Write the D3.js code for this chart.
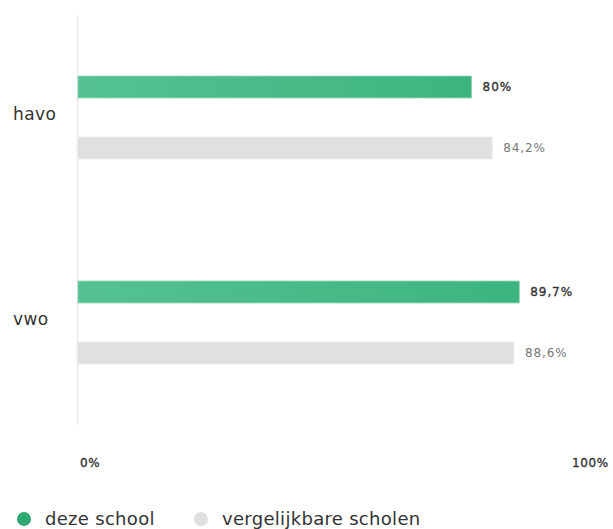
<!DOCTYPE html>
<html lang="nl">
<head>
    <meta charset="UTF-8">
    <title>havo vwo</title>
    <script src="https://cdn.jsdelivr.net/npm/d3@7/dist/d3.min.js"></script>
    <style>
        body { margin: 0; background: #fff; }
        svg { display: block; font-family: "DejaVu Sans", sans-serif; }
    </style>
</head>
<body>
    <svg width="613" height="529"></svg>
    <script>
        // data
        const categories = ['havo', 'vwo']
        const series = ['deze school', 'vergelijkbare scholen']
        const schoolValues = [80, 89.7]
        const compareValues = [84.2, 88.6]
        const tickValues = [0, 100]

        const colors = { 'deze school': '#46b886', 'vergelijkbare scholen': '#e0e0e0' }
        const fmt = v => String(v).replace('.', ',') + '%'

        const svg = d3.select('svg')
        const mLeft = 78, mRight = 570, mTop = 15, mBottom = 425

        const x = d3.scaleLinear().domain([0, 100]).range([mLeft, mRight])
        const y = d3.scaleBand().domain(categories).range([mTop, mBottom])
        const ySub = d3.scaleBand().domain(series).range([0, y.bandwidth()]).paddingInner(0.64).paddingOuter(1.0)

        const defs = svg.append('defs')
        const grad = defs.append('linearGradient').attr('id', 'greenGrad')
        grad.append('stop').attr('offset', '0%').attr('stop-color', '#55c193')
        grad.append('stop').attr('offset', '100%').attr('stop-color', '#3db47f')

        // axis line
        svg.append('line')
            .attr('x1', mLeft - 0.5).attr('x2', mLeft - 0.5)
            .attr('y1', mTop).attr('y2', mBottom)
            .attr('stroke', '#efe6ea').attr('stroke-width', 1.5)

        const rows = categories.map((c, i) => [
            { cat: c, s: series[0], v: schoolValues[i] },
            { cat: c, s: series[1], v: compareValues[i] }
        ]).flat()

        const g = svg.append('g')
        g.selectAll('rect')
            .data(rows)
            .join('rect')
            .attr('x', x(0))
            .attr('y', d => y(d.cat) + ySub(d.s))
            .attr('width', d => x(d.v) - x(0))
            .attr('height', ySub.bandwidth())
            .attr('fill', d => d.s === series[0] ? 'url(#greenGrad)' : colors[d.s])
            .attr('stroke', d => d.s === series[0] ? '#8fd6b5' : '#ececec')
            .attr('stroke-width', 0.8)

        g.selectAll('text.val')
            .data(rows)
            .join('text')
            .attr('class', 'val')
            .attr('x', d => x(d.v) + 11)
            .attr('y', d => y(d.cat) + ySub(d.s) + ySub.bandwidth() / 2)
            .attr('dy', '0.35em')
            .attr('font-size', 12)
            .attr('letter-spacing', 0.9)
            .attr('fill', d => d.s === series[0] ? '#333' : '#777')
            .attr('stroke', d => d.s === series[0] ? '#333' : 'none')
            .attr('stroke-width', 0.35)
            .text(d => fmt(d.v))

        // category labels
        svg.selectAll('text.cat')
            .data(categories)
            .join('text')
            .attr('class', 'cat')
            .attr('x', 13)
            .attr('y', d => y(d) + y.bandwidth() / 2 - 3)
            .attr('dy', '0.35em')
            .attr('font-size', 17)
            .attr('letter-spacing', 0.4)
            .attr('fill', '#333')
            .text(d => d)

        // ticks
        svg.selectAll('text.tick')
            .data(tickValues)
            .join('text')
            .attr('class', 'tick')
            .attr('x', d => x(d) + 2)
            .attr('y', 467)
            .attr('font-size', 12)
            .attr('letter-spacing', 0.6)
            .attr('fill', '#333')
            .attr('stroke', '#333')
            .attr('stroke-width', 0.35)
            .text(d => d + '%')

        // legend
        const legendX = [24, 201]
        const lg = svg.selectAll('g.legend')
            .data(series)
            .join('g')
            .attr('class', 'legend')
            .attr('transform', (d, i) => 'translate(' + legendX[i] + ',519)')
        lg.append('circle')
            .attr('r', 7)
            .attr('fill', (d, i) => i === 0 ? '#2fa874' : '#e0e0e0')
        lg.append('text')
            .attr('x', 21)
            .attr('dy', '0.35em')
            .attr('font-size', 18)
            .attr('letter-spacing', 0.3)
            .attr('fill', '#333')
            .text(d => d)
    </script>
</body>
</html>
